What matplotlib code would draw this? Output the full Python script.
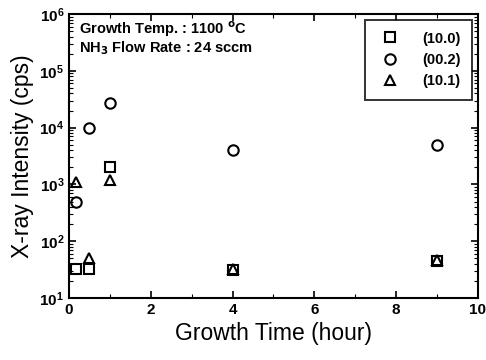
import matplotlib
matplotlib.use("Agg")
import matplotlib.pyplot as plt
from matplotlib.ticker import LogLocator, NullFormatter, MultipleLocator

plt.rcParams['font.family'] = ['Liberation Sans', 'DejaVu Sans']

# growth time (hour) and x-ray intensity (cps) for each reflection
time_100 = [0.17, 0.5, 1, 4, 9]
int_100 = [32, 32, 2000, 31, 45]

time_002 = [0.17, 0.5, 1, 4, 9]
int_002 = [490, 10000, 27000, 4000, 5000]

time_101 = [0.17, 0.5, 1, 4, 9]
int_101 = [1100, 50, 1200, 32, 46]

fig = plt.figure(figsize=(4.86, 3.6), dpi=100)
ax = fig.add_axes([0.142, 0.172, 0.8415, 0.789])

mk = dict(linestyle='none', markerfacecolor='none', markeredgecolor='black',
          markersize=7.5, markeredgewidth=1.5)
ax.plot(time_100, int_100, marker='s', label='(10.0)', **mk)
ax.plot(time_002, int_002, marker='o', label='(00.2)', **mk)
ax.plot(time_101, int_101, marker='^', label='(10.1)', **mk)

ax.set_yscale('log')
ax.set_xlim(0, 10)
ax.set_ylim(10, 1e6)
ax.xaxis.set_major_locator(MultipleLocator(2))
ax.xaxis.set_minor_locator(MultipleLocator(1))
ax.yaxis.set_major_locator(LogLocator(base=10, numticks=10))
ax.yaxis.set_minor_locator(LogLocator(base=10, subs=range(2, 10), numticks=10))
ax.yaxis.set_minor_formatter(NullFormatter())
ax.tick_params(which='both', direction='in', top=True, right=True, labelsize=11)
ax.tick_params(which='major', length=5, width=1.2)
ax.tick_params(which='minor', length=3, width=0.8)
for lab in ax.get_xticklabels() + ax.get_yticklabels():
    lab.set_fontweight('bold')
for s in ax.spines.values():
    s.set_linewidth(1.5)

ax.set_xlabel('Growth Time (hour)', fontsize=16.5)
ax.set_ylabel('X-ray Intensity (cps)', fontsize=16.5)

ax.text(0.025, 0.945, 'Growth Temp. : 1100 $^{\\mathbf{o}}$C', transform=ax.transAxes,
        fontsize=10.5, fontweight='bold', va='center')
ax.text(0.025, 0.88, 'NH$_\\mathbf{3}$ Flow Rate : 24 sccm', transform=ax.transAxes,
        fontsize=10.5, fontweight='bold', va='center')

leg = ax.legend(loc='upper right', prop={'size': 10.5, 'weight': 'bold'},
                frameon=True, fancybox=False, edgecolor='black',
                handletextpad=1.3, borderpad=0.8, labelspacing=0.5,
                borderaxespad=0.4, handlelength=1.8)
leg.get_frame().set_linewidth(1.4)

fig.savefig('out.png', dpi=100)
